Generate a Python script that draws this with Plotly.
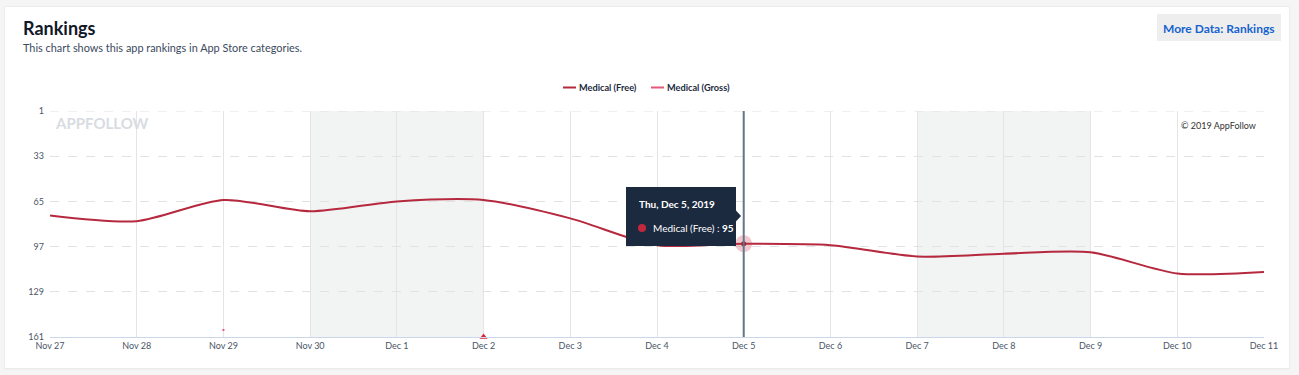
import plotly.graph_objects as go

# ---- data ----
dates = ["2019-11-27", "2019-11-28", "2019-11-29", "2019-11-30", "2019-12-01",
         "2019-12-02", "2019-12-03", "2019-12-04", "2019-12-05", "2019-12-06",
         "2019-12-07", "2019-12-08", "2019-12-09", "2019-12-10", "2019-12-11"]
tick_labels = ["Nov 27", "Nov 28", "Nov 29", "Nov 30", "Dec 1", "Dec 2", "Dec 3",
               "Dec 4", "Dec 5", "Dec 6", "Dec 7", "Dec 8", "Dec 9", "Dec 10", "Dec 11"]
medical_free = [75, 79, 64, 72, 65, 64, 77, 96, 95, 96, 104, 102, 101, 116, 115]
gross_dates = ["2019-11-29", "2019-12-02"]
medical_gross = [156, 161]
weekends = [("2019-11-30", "2019-12-02"), ("2019-12-07", "2019-12-09")]
rank_ticks = [1, 33, 65, 97, 129, 161]
hover_index = 8  # Dec 5

FREE_COLOR = "#b5283d"
GROSS_COLOR = "#e8557a"

# plot-area pixel geometry (for decorations only)
L, R, T, B = 50, 1264, 111, 337
def px(x):
    return (x - L) / (R - L)
def py(y):
    return (B - y) / (B - T)

fig = go.Figure()

fig.add_trace(go.Scatter(
    x=dates, y=medical_free, mode="lines", name="Medical (Free)",
    line=dict(color=FREE_COLOR, width=2, shape="spline", smoothing=0.75),
    showlegend=False, hoverinfo="skip"))

fig.add_trace(go.Scatter(
    x=gross_dates[:1], y=medical_gross[:1], mode="markers", name="Medical (Gross)",
    marker=dict(color=GROSS_COLOR, size=2, symbol="square"),
    showlegend=False, hoverinfo="skip", cliponaxis=False))
fig.add_trace(go.Scatter(
    x=gross_dates[1:], y=medical_gross[1:], mode="markers", name="Medical (Gross)",
    marker=dict(color="#d42a3c", size=7, symbol="triangle-up"),
    showlegend=False, hoverinfo="skip", cliponaxis=False))

# hovered point halo + dot
fig.add_trace(go.Scatter(
    x=[dates[hover_index]], y=[medical_free[hover_index]], mode="markers",
    marker=dict(color="rgba(200,60,80,0.28)", size=17, line=dict(width=0)),
    showlegend=False, hoverinfo="skip", cliponaxis=False))
fig.add_trace(go.Scatter(
    x=[dates[hover_index]], y=[medical_free[hover_index]], mode="markers",
    marker=dict(color="#9c1e30", size=5, line=dict(width=0)),
    showlegend=False, hoverinfo="skip", cliponaxis=False))

shapes = []
# card background + faint shadow
shapes.append(dict(type="rect", xref="paper", yref="paper", x0=px(4), x1=px(1290), y0=py(369.5), y1=py(6),
                   fillcolor="#ececec", line=dict(width=0), layer="below"))
shapes.append(dict(type="rect", xref="paper", yref="paper", x0=px(5), x1=px(1289), y0=py(368), y1=py(7),
                   fillcolor="#ffffff", line=dict(width=0), layer="below"))
# weekend bands
for a, b in weekends:
    shapes.append(dict(type="rect", xref="x", yref="paper", x0=a, x1=b, y0=0, y1=1,
                       fillcolor="#f2f3f3", line=dict(width=0), layer="below"))
# top dashed boundary gridline (rank 1)
shapes.append(dict(type="line", xref="paper", yref="y", x0=0, x1=1, y0=rank_ticks[0], y1=rank_ticks[0],
                   line=dict(color="#e2e2e2", width=1, dash="dash"), layer="below"))
# crosshair
shapes.append(dict(type="line", xref="x", yref="paper", x0=dates[hover_index], x1=dates[hover_index],
                   y0=0, y1=1, line=dict(color="#66768a", width=2), layer="above"))
# button
shapes.append(dict(type="rect", xref="paper", yref="paper", x0=px(1157), x1=px(1281), y0=py(41), y1=py(14),
                   fillcolor="#eeeeee", line=dict(width=0)))
# tooltip box + pointer
shapes.append(dict(type="rect", xref="paper", yref="paper", x0=px(626), x1=px(736), y0=py(246), y1=py(187),
                   fillcolor="#1b2a3e", line=dict(width=0), layer="above"))
shapes.append(dict(type="path", xref="paper", yref="paper",
                   path="M %f,%f L %f,%f L %f,%f Z" % (px(735.5), py(210), px(741), py(216), px(735.5), py(222)),
                   fillcolor="#1b2a3e", line=dict(width=0), layer="above"))
shapes.append(dict(type="circle", xref="paper", yref="paper", x0=px(638), x1=px(646), y0=py(232), y1=py(224),
                   fillcolor="#c0283e", line=dict(width=0), layer="above"))
# custom legend lines
shapes.append(dict(type="line", xref="paper", yref="paper", x0=px(563), x1=px(576), y0=py(87.5), y1=py(87.5),
                   line=dict(color=FREE_COLOR, width=2)))
shapes.append(dict(type="line", xref="paper", yref="paper", x0=px(651), x1=px(664), y0=py(87.5), y1=py(87.5),
                   line=dict(color=GROSS_COLOR, width=2)))

def ann(text, x, y, size, color, xanchor="left", bold=False, family="Lato"):
    return dict(text=("<b>%s</b>" % text) if bold else text, xref="paper", yref="paper",
                x=px(x), y=py(y), xanchor=xanchor, yanchor="middle", showarrow=False,
                font=dict(family=family, size=size, color=color))

annotations = [
    ann("Rankings", 21, 28, 18, "#111827", bold=True),
    ann("This chart shows this app rankings in App Store categories.", 21, 48, 10.9, "#3b4a5e"),
    ann("More Data: Rankings", 1219, 28, 12, "#1664cf", xanchor="center", bold=True),
    ann("Medical (Free)", 577, 87.5, 9.2, "#1b2a3e", bold=True),
    ann("Medical (Gross)", 665, 87.5, 9.2, "#1b2a3e", bold=True),
    ann("APPFOLLOW", 53, 123, 15, "#d8dce2", bold=True),
    ann("© 2019 AppFollow", 1258, 125, 9, "#333333", xanchor="right"),
    ann("Thu, Dec 5, 2019", 637, 204, 10, "#ffffff", bold=True),
    ann("Medical (Free) : <b>95</b>", 651, 228, 10, "#ffffff"),
]

fig.update_layout(
    width=1299, height=375,
    margin=dict(l=L, r=1299 - R, t=T, b=375 - B),
    paper_bgcolor="#f5f5f5", plot_bgcolor="rgba(0,0,0,0)",
    font=dict(family="Lato", size=9, color="#4a5566"),
    shapes=shapes, annotations=annotations, showlegend=False,
    xaxis=dict(type="date", range=[dates[0], dates[-1]], tickvals=dates, ticktext=tick_labels,
               showgrid=True, gridcolor="#e4e4e4", gridwidth=1, zeroline=False,
               showline=True, linecolor="#ccd6eb", linewidth=1, ticks="",
               tickfont=dict(family="Lato", size=9, color="#4a5566"), fixedrange=True),
    yaxis=dict(range=[161, 1], tickvals=rank_ticks, ticktext=[str(v) for v in rank_ticks],
               showgrid=True, gridcolor="#e2e2e2", griddash="dash", gridwidth=1, zeroline=False,
               showline=False, ticks="", ticklabelstandoff=5,
               tickfont=dict(family="Lato", size=9, color="#4a5566"), fixedrange=True),
)

fig.write_html("out.html", config={"displayModeBar": False},
               post_script="document.body.style.margin='0';document.body.style.overflow='hidden';")
